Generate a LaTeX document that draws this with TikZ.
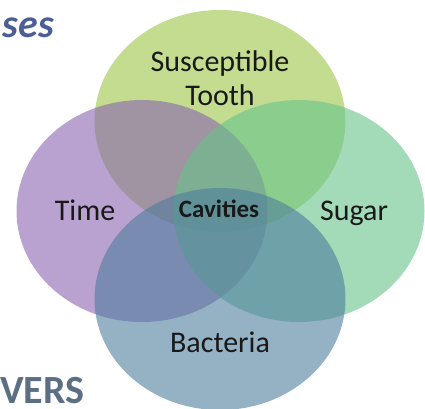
\documentclass[tikz,border=0pt]{standalone}
\usepackage{fontspec}
\setmainfont{Carlito}
\usetikzlibrary{positioning, shapes.geometric}
\definecolor{ToothGreen}{HTML}{9BC544}
\definecolor{TimePurple}{HTML}{8A64AF}
\definecolor{SugarGreen}{HTML}{66C38A}
\definecolor{BactBlue}{HTML}{4E7D9D}
\definecolor{TitleBlue}{HTML}{4B5E96}
\definecolor{TitleGrey}{HTML}{5B6E84}
\tikzset{
    venn/.style={ellipse, draw=none, fill opacity=0.6, minimum width=251pt, minimum height=222pt, inner sep=0pt},
    lbl/.style={text=black!90, font=\fontsize{30}{34}\selectfont, align=center},
    core/.style={text=black!90, font=\fontsize{25}{30}\selectfont\bfseries},
}
\begin{document}
\begin{tikzpicture}[x=1pt, y=-1pt]
    \useasboundingbox (0,0) rectangle (425,408);
    % Cerchi del diagramma
    \node[venn, fill=ToothGreen] (tooth) at (220,121) {};
    \node[venn, fill=TimePurple] (time) at (142,211) {};
    \node[venn, fill=SugarGreen] (sugar) at (299,211) {};
    \node[venn, fill=BactBlue] (bacteria) at (220,299) {};

    % Etichette
    \node[lbl] (toothlbl) at (220,78) {Susceptible\\Tooth};
    \node[lbl, anchor=base] (timelbl) at (85,220) {Time};
    \node[lbl, anchor=base] (sugarlbl) at (354,220) {Sugar};
    \node[lbl, anchor=base] (bactlbl) at (220,352) {Bacteria};
    \node[core, anchor=base] (cavities) at (219,217) {Cavities};

    % Titoli tagliati
    \node[anchor=base east, text=TitleBlue, font=\fontsize{40}{44}\selectfont\bfseries\itshape, inner sep=0pt] (titletop) at (54,37) {ses};
    \node[anchor=base west, text=TitleGrey, font=\fontsize{40}{44}\selectfont\bfseries, inner sep=0pt] (titlebot) at (0,403) {VERS};
\end{tikzpicture}
\end{document}
